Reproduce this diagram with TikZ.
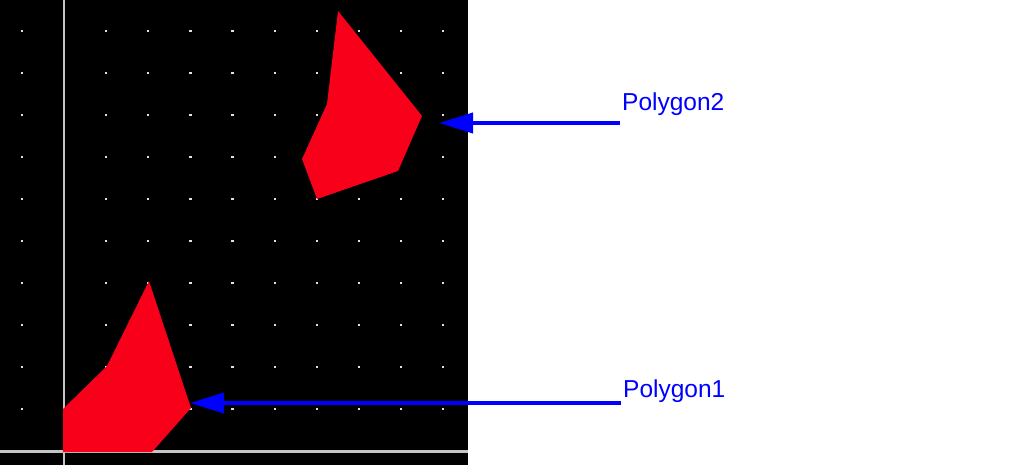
\documentclass[tikz,border=0pt]{standalone}
\usepackage{fontspec}
\setmainfont{Liberation Sans}
\usetikzlibrary{arrows.meta, positioning, calc}
\definecolor{panelcolor}{RGB}{0, 0, 0}
\definecolor{polycolor} {RGB}{248, 0, 26}
\definecolor{axiscolor} {RGB}{196, 196, 196}
\definecolor{dotcolor}  {RGB}{225, 225, 225}
\definecolor{notecolor} {RGB}{0, 0, 255}
\tikzset{
	polyshape/.style={
		fill=polycolor, draw=none
	},
	axisline/.style={
		draw=axiscolor, line width=2.4pt
	},
	griddot/.style={
		fill=dotcolor, draw=none
	},
	notearrow/.style={
		-{Triangle[length=34pt, width=20pt]}, line width=4pt, color=notecolor
	},
	notelabel/.style={
		anchor=base west, inner sep=0pt, text=notecolor,
		font=\fontsize{24.5}{29}\selectfont
	}
}
\begin{document}
\begin{tikzpicture}[x=1pt, y=-1pt]
		\useasboundingbox (0,0) rectangle (1013,471);
		
		%% ═══════════════════════════════
		%%  PANEL + DOT GRID
		%% ═══════════════════════════════
		\fill[panelcolor] (0,0) rectangle (468,465);
		\foreach \i in {0,...,10}
		\foreach \j in {0,...,10}
		\fill[griddot] ({22+42.1*\i-1.1},{31+42*\j-1.1}) rectangle ++(2.2,2.2);
		
		% axes
		\draw[axisline] (64,0) -- (64,465);
		\draw[axisline] (0,451.5) -- (468,451.5);
		
		%% ═══════════════════════════════
		%%  POLYGONS
		%% ═══════════════════════════════
		\coordinate (p1a) at (63,409);
		\coordinate (p1b) at (107,366);
		\coordinate (p1c) at (149,281);
		\coordinate (p1d) at (191,408);
		\coordinate (p1e) at (152,452);
		\coordinate (p1f) at (63,452);
		\fill[polyshape] (p1a) -- (p1b) -- (p1c) -- (p1d) -- (p1e) -- (p1f) -- cycle;
		
		\coordinate (p2a) at (338,11);
		\coordinate (p2b) at (422,116);
		\coordinate (p2c) at (398,171);
		\coordinate (p2d) at (317,199);
		\coordinate (p2e) at (302,159);
		\coordinate (p2f) at (327,104);
		\fill[polyshape] (p2a) -- (p2b) -- (p2c) -- (p2d) -- (p2e) -- (p2f) -- cycle;
		
		%% ═══════════════════════════════
		%%  LABELS + ARROWS
		%% ═══════════════════════════════
		\node[notelabel] (poly2) at (622,110.5) {Polygon2};
		\node[notelabel] (poly1) at (623,397.5) {Polygon1};
		
		\coordinate (tail2) at (620,123);
		\coordinate (tip2)  at (439,123);
		\coordinate (tail1) at (621,403);
		\coordinate (tip1)  at (190,403);
		
		% Polygon2 note
		\draw[notearrow] (tail2) -- (tip2);
		
		% Polygon1 note
		\draw[notearrow] (tail1) -- (tip1);
	\end{tikzpicture}
\end{document}
